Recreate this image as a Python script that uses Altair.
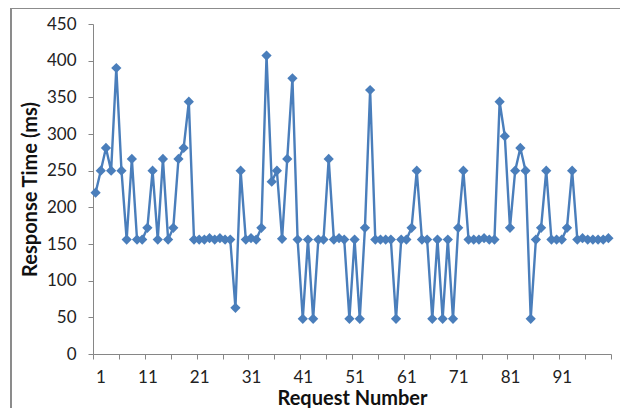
import altair as alt
import pandas as pd

requests = list(range(1, 101))
response_ms = [220, 250, 281, 250, 390, 250, 156, 266, 156, 156,
               172, 250, 156, 266, 156, 172, 266, 281, 344, 156,
               156, 156, 158, 156, 158, 156, 156, 63, 250, 156,
               158, 156, 172, 407, 235, 250, 157, 266, 376, 156,
               48, 156, 48, 156, 156, 266, 156, 158, 156, 48,
               156, 48, 172, 360, 156, 156, 156, 156, 48, 156,
               156, 172, 250, 156, 156, 48, 156, 48, 156, 48,
               172, 250, 156, 156, 156, 158, 156, 156, 344, 297,
               172, 250, 281, 250, 48, 156, 172, 250, 156, 156,
               156, 172, 250, 156, 158, 156, 156, 156, 156, 158]

x_ticks = [0.5 + 5 * k for k in range(21)]
y_ticks = list(range(0, 451, 50))

df = pd.DataFrame({"req": requests, "ms": response_ms})

FONT = "Lato"
BLUE = "#4A7EBB"
AXIS_GRAY = "#868686"

x_enc = alt.X(
    "req:Q",
    scale=alt.Scale(domain=[0.5, 100.5], nice=False, zero=False),
    axis=alt.Axis(
        title="Request Number",
        values=x_ticks,
        labelExpr="datum.value < 100 && (datum.value - 0.5) % 10 == 0 ? toString(datum.value + 0.5) : ''",
        labelOffset=2.6,
        labelOverlap=False,
        labelPadding=10,
        labelFontSize=17,
        labelFont=FONT,
        labelColor="#222222",
        tickSize=5,
        tickColor=AXIS_GRAY,
        domainColor=AXIS_GRAY,
        grid=False,
        titleFont=FONT,
        titleFontSize=20,
        titleFontWeight="bold",
        titleColor="#111111",
        titlePadding=3,
    ),
)
y_enc = alt.Y(
    "ms:Q",
    scale=alt.Scale(domain=[0, 450], nice=False),
    axis=alt.Axis(
        title="Response Time (ms)",
        values=y_ticks,
        labelPadding=12,
        labelFontSize=17,
        labelFont=FONT,
        labelColor="#222222",
        tickSize=5,
        tickColor=AXIS_GRAY,
        domainColor=AXIS_GRAY,
        grid=False,
        titleFont=FONT,
        titleFontSize=20,
        titleFontWeight="bold",
        titleColor="#111111",
        titleX=-63,
        titleY=165,
        titleAngle=-90,
        titleBaseline="middle",
        titleAlign="center",
    ),
)

border = alt.Chart(df).mark_rect(
    fill=None, stroke="#8c8c8c", strokeWidth=1.2, clip=False
).encode(
    x=alt.value(-82), x2=alt.value(560), y=alt.value(-16), y2=alt.value(420)
)

line = alt.Chart(df).mark_line(
    color=BLUE, strokeWidth=2.4,
    point=alt.OverlayMarkDef(shape="diamond", size=105, filled=True, color=BLUE, opacity=1),
).encode(x=x_enc, y=y_enc)

chart = alt.layer(border, line).properties(
    width=518, height=330,
    autosize=alt.AutoSizeParams(type="none"),
    padding={"left": 85, "top": 16, "right": 9, "bottom": 54},
    background="white",
).configure_view(stroke=None)

chart.save("out.html", embed_options={"renderer": "svg", "actions": False})
